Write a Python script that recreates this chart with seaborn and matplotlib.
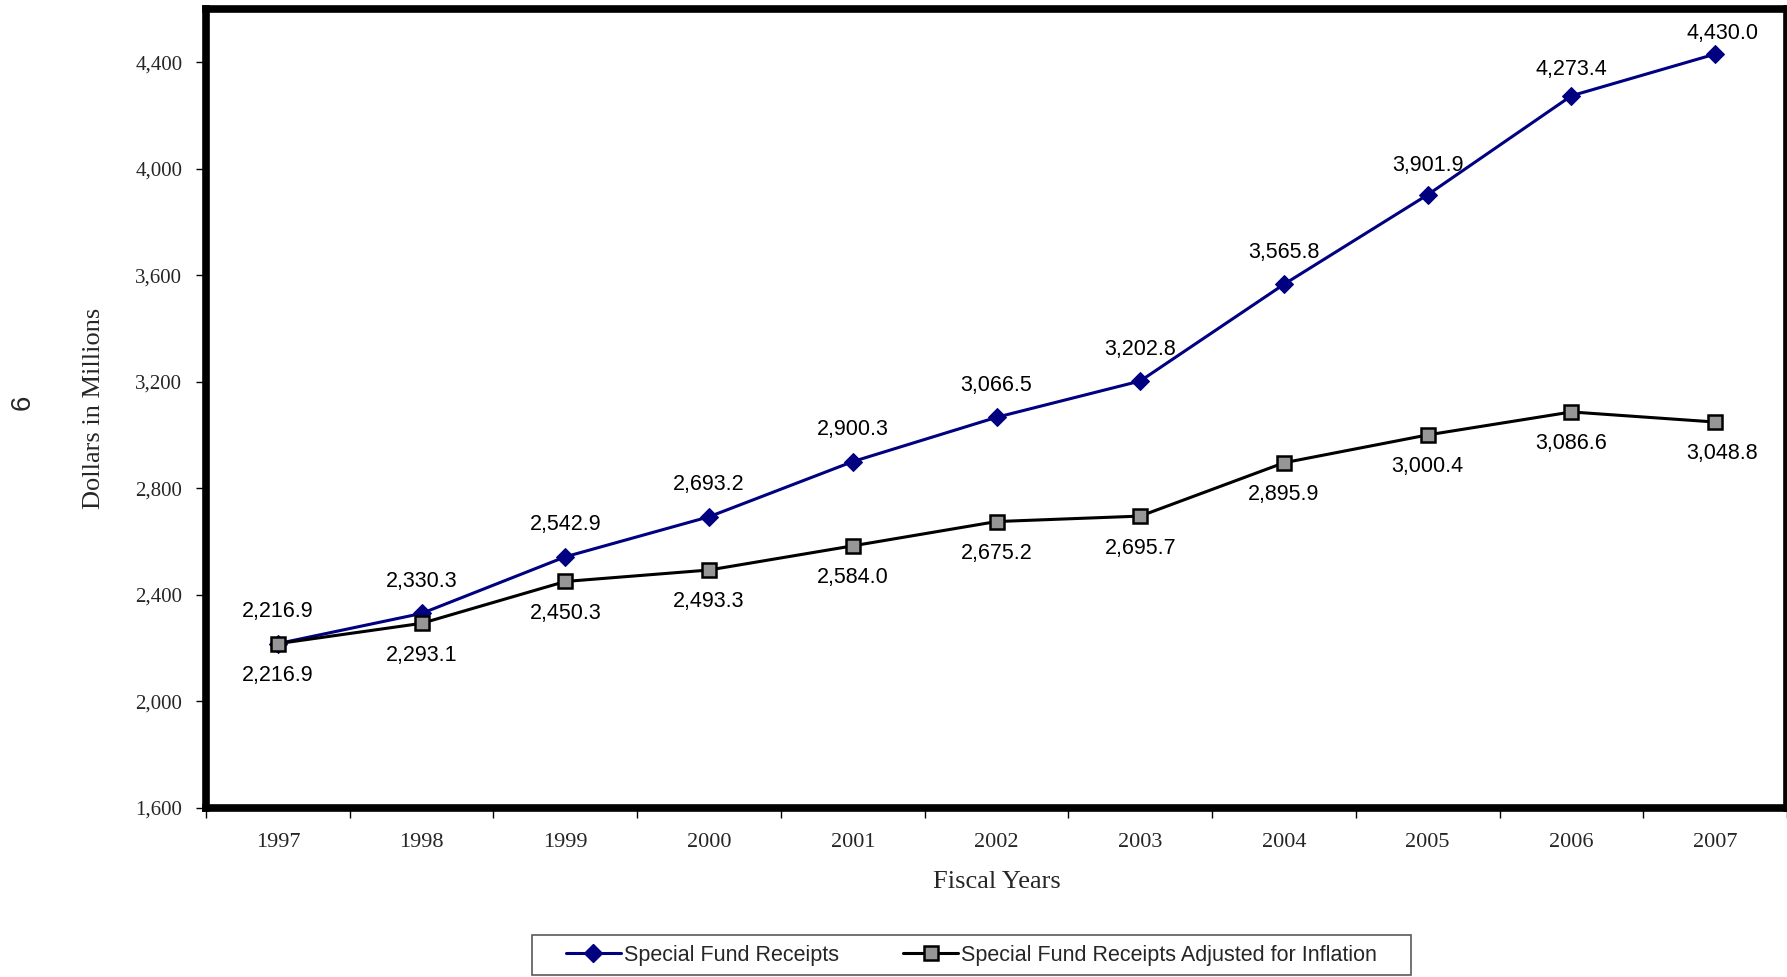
import matplotlib
matplotlib.use("Agg")
import matplotlib.pyplot as plt
from matplotlib.lines import Line2D
from matplotlib.patches import Rectangle
import seaborn as sns
import pandas as pd

years = ["1997", "1998", "1999", "2000", "2001", "2002", "2003", "2004", "2005", "2006", "2007"]
receipts = [2216.9, 2330.3, 2542.9, 2693.2, 2900.3, 3066.5, 3202.8, 3565.8, 3901.9, 4273.4, 4430.0]
adjusted = [2216.9, 2293.1, 2450.3, 2493.3, 2584.0, 2675.2, 2695.7, 2895.9, 3000.4, 3086.6, 3048.8]
y_ticks = [1600, 2000, 2400, 2800, 3200, 3600, 4000, 4400]

name_a = "Special Fund Receipts"
name_b = "Special Fund Receipts Adjusted for Inflation"

sns.set_theme(style="white")
plt.rcParams["font.family"] = ["Liberation Serif", "DejaVu Serif"]

SANS = ["Liberation Sans", "DejaVu Sans"]
NAVY = "#000080"
GREY = "#969696"

df = pd.DataFrame({"pos": range(len(years)), "year": years,
                   "receipts": receipts, "adjusted": adjusted})

fig = plt.figure(figsize=(17.87, 9.77), dpi=100)
ax = fig.add_axes([0.1153, 0.173, 0.8847, 0.818])

sns.lineplot(data=df, x="pos", y="receipts", ax=ax, color=NAVY, lw=2.2,
             marker="D", markersize=9, markeredgecolor=NAVY, markerfacecolor=NAVY)
sns.lineplot(data=df, x="pos", y="adjusted", ax=ax, color="black", lw=2.2,
             marker="s", markersize=10, markeredgecolor="black",
             markeredgewidth=1.8, markerfacecolor=GREY)

# labels near the top edge are nudged down so they stay inside the frame
n = len(years)
for i, (a, b) in enumerate(zip(receipts, adjusted)):
    up = {n - 1: 15, n - 2: 19, n - 3: 21}.get(i, 23)
    dx = 5 if i == n - 1 else 0
    ax.annotate(f"{a:,.1f}", (i, a), xytext=(dx, up), textcoords="offset points",
                ha="center", va="center", fontsize=15.5, family=SANS, color="black")
    ax.annotate(f"{b:,.1f}", (i, b), xytext=(dx, -23), textcoords="offset points",
                ha="center", va="center", fontsize=15.5, family=SANS, color="black")

ax.set_xlim(-0.5, n - 0.5)
ax.set_ylim(1600, 4600)
ax.set_yticks(y_ticks)
ax.set_yticklabels([f"{v:,}" for v in y_ticks], fontsize=15)
ax.set_xticks([i - 0.5 for i in range(n + 1)])
ax.set_xticklabels([])
ax.set_xticks(range(n), minor=True)
ax.set_xticklabels(years, minor=True, fontsize=16)
ax.tick_params(axis="x", which="major", direction="out", length=7, width=1, color="black")
ax.tick_params(axis="x", which="minor", length=0, pad=18)
ax.tick_params(axis="y", direction="out", length=7, width=1, color="black", pad=10)
ax.tick_params(left=True, bottom=True)

for side in ["left", "right", "top", "bottom"]:
    ax.spines[side].set_visible(True)
    ax.spines[side].set_linewidth(5.5)
    ax.spines[side].set_color("black")

ax.set_xlabel("Fiscal Years", fontsize=19, labelpad=14)
ax.set_ylabel("Dollars in Millions", fontsize=19, labelpad=22)

fig.text(0.0125, 0.588, "6", rotation=90, ha="center", va="center",
         fontsize=20, family=SANS)

# legend box below the chart
fig.add_artist(Rectangle((0.2977, 0.002), 0.4919, 0.041, transform=fig.transFigure,
                         facecolor="white", edgecolor="#5a5a5a", lw=1.2, zorder=1))

handles = [
    Line2D([], [], color=NAVY, lw=2.2, marker="D", markersize=9,
           markerfacecolor=NAVY, markeredgecolor=NAVY),
    Line2D([], [], color="black", lw=2.2, marker="s", markersize=10,
           markerfacecolor=GREY, markeredgecolor="black", markeredgewidth=1.8),
]
leg = fig.legend(handles, [name_a, name_b], loc="center left", ncol=2,
                 bbox_to_anchor=(0.3167, 0.0225), frameon=False,
                 prop={"family": SANS, "size": 15.5},
                 handlelength=2.55, handletextpad=0.14, columnspacing=3.0,
                 borderpad=0, borderaxespad=0)
leg.set_zorder(2)

fig.savefig("out.png", dpi=100, facecolor="white")
